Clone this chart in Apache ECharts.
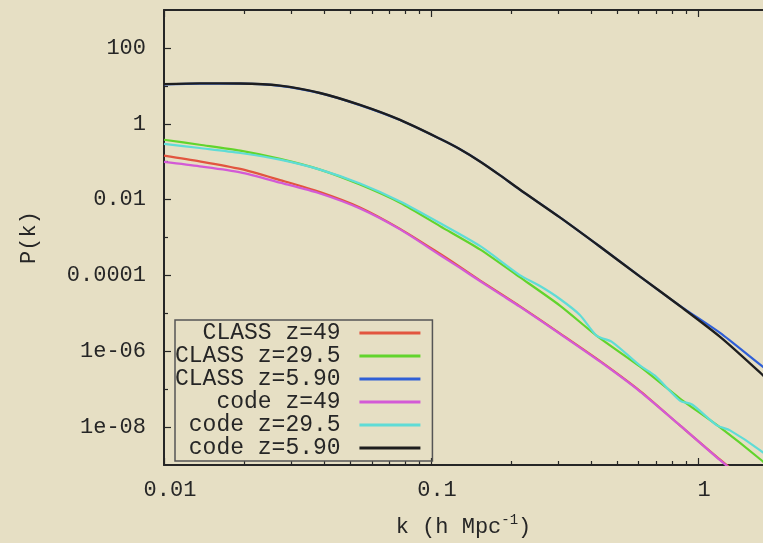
<!DOCTYPE html>
<html>
<head>
<meta charset="utf-8">
<script src="https://cdn.jsdelivr.net/npm/echarts@6/dist/echarts.min.js"></script>
<style>
html,body{margin:0;padding:0;background:#e6dfc4;}
#chart{width:763px;height:543px;}
</style>
</head>
<body>
<div id="chart"></div>
<script>
// k values (h/Mpc) the curves were read at
var kGrid = [0.01, 0.0136, 0.0193, 0.0272, 0.0384, 0.0542, 0.0766, 0.108, 0.128, 0.153, 0.181, 0.215, 0.304, 0.43, 0.607, 0.856, 1.21, 1.71, 2.2];
var kGreen = [0.01, 0.0136, 0.0193, 0.0272, 0.0384, 0.0542, 0.0766, 0.108, 0.153, 0.215, 0.304, 0.418, 0.607, 0.856, 1.21, 1.71, 2.2];
var kCyan = [0.01, 0.0136, 0.0193, 0.0272, 0.0384, 0.0542, 0.0766, 0.108, 0.153, 0.215, 0.256, 0.304, 0.361, 0.418, 0.476, 0.607, 0.690, 0.856, 0.950, 1.178, 1.318, 1.71, 2.2];

// P(k) per run
var pClass49  = [0.144, 0.102, 0.0643, 0.0327, 0.0158, 0.00621, 0.00169, 3.73e-4, 1.70e-4, 7.3e-5, 3.4e-5, 1.55e-5, 2.96e-6, 5.47e-7, 8.91e-8, 1.11e-8, 1.38e-9, 1.95e-10, 5e-11];
var pClass295 = [0.378, 0.279, 0.195, 0.118, 0.0617, 0.0249, 0.00824, 0.00200, 4.80e-4, 9.0e-5, 1.60e-5, 2.55e-6, 3.92e-7, 5.66e-8, 9.82e-9, 1.42e-9, 2.95e-10];
var pClass590 = [10.9, 11.4, 11.4, 10.0, 6.4, 3.1, 1.25, 0.40, 0.215, 0.100, 0.0442, 0.0184, 0.00339, 5.70e-4, 9.31e-5, 1.58e-5, 3.05e-6, 4.43e-7, 1.17e-7];
var pCode49   = [0.0982, 0.0753, 0.0524, 0.0281, 0.0145, 0.00583, 0.00164, 3.45e-4, 1.60e-4, 7.0e-5, 3.25e-5, 1.50e-5, 2.88e-6, 5.30e-7, 8.65e-8, 1.11e-8, 1.34e-9, 1.82e-10, 4.5e-11];
var pCode295  = [0.296, 0.229, 0.169, 0.113, 0.0617, 0.0265, 0.00891, 0.00240, 5.90e-4, 1.02e-4, 5.24e-5, 2.39e-5, 9.08e-6, 2.55e-6, 1.77e-6, 4.16e-7, 2.28e-7, 5.02e-8, 3.94e-8, 1.11e-8, 8.18e-9, 2.44e-9, 5.74e-10];
var pCode590  = [11.1, 11.6, 11.5, 10.1, 6.47, 3.13, 1.26, 0.402, 0.216, 0.100, 0.0442, 0.0184, 0.00339, 5.70e-4, 9.31e-5, 1.56e-5, 2.40e-6, 2.72e-7, 5.0e-8];

var seriesNames = ['CLASS z=49', 'CLASS z=29.5', 'CLASS z=5.90', 'code z=49', 'code z=29.5', 'code z=5.90'];
var seriesColors = ['#e2553f', '#62d42c', '#2f5fd6', '#d35ad6', '#5fdcd6', '#1e1e1e'];

// axis ticks
var xLabelValues = [0.01, 0.1, 1];
var xLabelText = ['0.01', '0.1', '1'];
var xMinorTicks = [0.02, 0.03, 0.04, 0.05, 0.06, 0.07, 0.08, 0.09, 0.2, 0.3, 0.4, 0.5, 0.6, 0.7, 0.8, 0.9];
var yLabelValues = [100, 1, 0.01, 1e-4, 1e-6, 1e-8];
var yLabelText = ['100', '1', '0.01', '0.0001', '1e-06', '1e-08'];
var yMinorTicks = [10, 0.1, 1e-3, 1e-5, 1e-7];

var mono = "'Liberation Mono', 'DejaVu Sans Mono', monospace";
var ink = '#262626';

function zip(ks, ps) {
  return ks.map(function (k, i) { return [k, ps[i]]; });
}
function pick(values, texts, v) {
  var best = 0;
  for (var i = 1; i < values.length; i++) {
    if (Math.abs(Math.log10(values[i]) - Math.log10(v)) < Math.abs(Math.log10(values[best]) - Math.log10(v))) best = i;
  }
  return texts[best];
}

function xAxisDef(pos, tickVals, len, showLabel, showLine) {
  return {
    type: 'log', position: pos, min: 0.01, max: 1.752, logBase: 10,
    axisLine: { show: showLine, onZero: false, lineStyle: { color: ink, width: 2 } },
    axisTick: { show: true, inside: true, length: len, customValues: tickVals, lineStyle: { color: ink, width: 1.2 } },
    axisLabel: {
      show: showLabel, customValues: xLabelValues, margin: 14, padding: [0, 0, 0, 12],
      fontFamily: mono, fontSize: 22, color: ink,
      formatter: function (v) { return pick(xLabelValues, xLabelText, v); }
    },
    splitLine: { show: false }
  };
}
function yAxisDef(tickVals, len, showLabel, showLine) {
  return {
    type: 'log', position: 'left', min: 1e-9, max: 1e3, logBase: 10,
    axisLine: { show: showLine, onZero: false, lineStyle: { color: ink, width: 2 } },
    axisTick: { show: true, inside: true, length: len, customValues: tickVals, lineStyle: { color: ink, width: 1.2 } },
    axisLabel: {
      show: showLabel, customValues: yLabelValues, margin: 18,
      fontFamily: mono, fontSize: 22, color: ink,
      formatter: function (v) { return pick(yLabelValues, yLabelText, v); }
    },
    splitLine: { show: false }
  };
}

var xMain = xAxisDef('bottom', xLabelValues, 7, true, true);
xMain.name = '{a|k (h Mpc}{s|-1}{a|)}';
xMain.nameLocation = 'middle';
xMain.nameGap = 48;
xMain.nameTextStyle = {
  rich: {
    a: { fontFamily: mono, fontSize: 22, color: ink },
    s: { fontFamily: mono, fontSize: 14, color: ink, padding: [0, 0, 14, 0] }
  }
};

var yMain = yAxisDef(yLabelValues, 7, true, true);
yMain.name = 'P(k)';
yMain.nameLocation = 'middle';
yMain.nameGap = 124;
yMain.nameTextStyle = { fontFamily: mono, fontSize: 22, color: ink };

var datasets = [
  zip(kGrid, pClass49), zip(kGreen, pClass295), zip(kGrid, pClass590),
  zip(kGrid, pCode49), zip(kCyan, pCode295), zip(kGrid, pCode590)
];

var chart = echarts.init(document.getElementById('chart'));
chart.setOption({
  backgroundColor: '#e6dfc4',
  animation: false,
  grid: { left: 164, top: 10, right: 0, bottom: 76, show: false },
  legend: {
    orient: 'vertical', left: 175, top: 320, align: 'right',
    icon: 'rect', itemWidth: 61, itemHeight: 3, itemGap: 0,
    padding: [1.5, 12, 1.5, 0],
    borderColor: '#555', borderWidth: 1.5,
    textStyle: { fontFamily: mono, fontSize: 23, color: ink },
    formatter: function (name) { return name + ' '; },
    data: seriesNames
  },
  xAxis: [
    xMain,
    xAxisDef('bottom', xMinorTicks, 4, false, false),
    xAxisDef('top', xLabelValues, 7, false, true),
    xAxisDef('top', xMinorTicks, 4, false, false)
  ],
  yAxis: [
    yMain,
    yAxisDef(yMinorTicks, 4, false, false)
  ],
  series: seriesNames.map(function (name, i) {
    return {
      name: name, type: 'line', xAxisIndex: 0, yAxisIndex: 0,
      data: datasets[i], symbol: 'none', smooth: 0.25, clip: true,
      color: seriesColors[i],
      lineStyle: { color: seriesColors[i], width: i === 5 ? 2.4 : 2.2 }
    };
  })
});
</script>
</body>
</html>
